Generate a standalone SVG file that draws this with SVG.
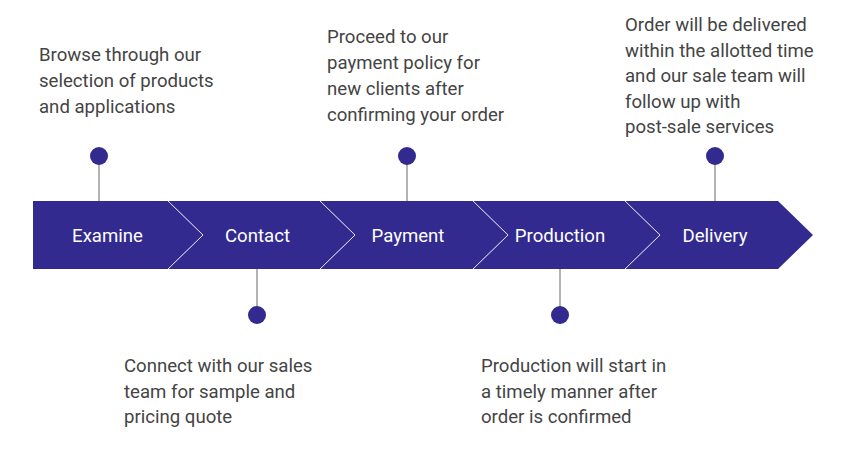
<svg xmlns="http://www.w3.org/2000/svg" width="841" height="470" viewBox="0 0 841 470">
<style>
.seg{fill:#332a8f;}
.div{fill:none;stroke:#e6e4f5;stroke-width:1;}
.lbl{font-family:Roboto,"Liberation Sans",sans-serif;font-size:18.6px;fill:#ffffff;text-anchor:middle;}
.desc{font-family:Roboto,"Liberation Sans",sans-serif;font-size:18.6px;fill:#444444;}
.stem{stroke:#9a9a9a;stroke-width:1.5;}
.dot{fill:#332a8f;}
</style>
<rect width="841" height="470" fill="#ffffff"/>
<g id="connectors">
<line class="stem" x1="99" y1="160" x2="99" y2="201"/>
<line class="stem" x1="407" y1="160" x2="407" y2="201"/>
<line class="stem" x1="715" y1="160" x2="715" y2="201"/>
<line class="stem" x1="257" y1="269" x2="257" y2="310"/>
<line class="stem" x1="560" y1="269" x2="560" y2="310"/>
</g>
<g id="examine">
<polygon class="seg" points="33,201 168,201 203,235 168,269 33,269"/>
<text class="lbl" x="107.5" y="242">Examine</text>
</g>
<g id="contact">
<polygon class="seg" points="168,201 320,201 355,235 320,269 168,269 203,235"/>
<polyline class="div" points="168,201 203,235 168,269"/>
<text class="lbl" x="257.5" y="242">Contact</text>
</g>
<g id="payment">
<polygon class="seg" points="320,201 473,201 508,235 473,269 320,269 355,235"/>
<polyline class="div" points="320,201 355,235 320,269"/>
<text class="lbl" x="408" y="242">Payment</text>
</g>
<g id="production">
<polygon class="seg" points="473,201 625,201 660,235 625,269 473,269 508,235"/>
<polyline class="div" points="473,201 508,235 473,269"/>
<text class="lbl" x="560" y="242">Production</text>
</g>
<g id="delivery">
<polygon class="seg" points="625,201 778,201 813,235 778,269 625,269 660,235"/>
<polyline class="div" points="625,201 660,235 625,269"/>
<text class="lbl" x="715" y="242">Delivery</text>
</g>
<g id="note-examine">
<circle class="dot" cx="99" cy="156" r="9"/>
<text class="desc" x="39" y="61">Browse through our</text>
<text class="desc" x="39" y="87">selection of products</text>
<text class="desc" x="39" y="113">and applications</text>
</g>
<g id="note-payment">
<circle class="dot" cx="407" cy="156" r="9"/>
<text class="desc" x="327" y="43">Proceed to our</text>
<text class="desc" x="327" y="69">payment policy for</text>
<text class="desc" x="327" y="95">new clients after</text>
<text class="desc" x="327" y="121">confirming your order</text>
</g>
<g id="note-delivery">
<circle class="dot" cx="715" cy="156" r="9"/>
<text class="desc" x="625" y="31">Order will be delivered</text>
<text class="desc" x="625" y="57">within the allotted time</text>
<text class="desc" x="625" y="82">and our sale team will</text>
<text class="desc" x="625" y="108">follow up with</text>
<text class="desc" x="625" y="133">post-sale services</text>
</g>
<g id="note-contact">
<circle class="dot" cx="257" cy="315" r="9"/>
<text class="desc" x="124" y="372">Connect with our sales</text>
<text class="desc" x="124" y="398">team for sample and</text>
<text class="desc" x="124" y="423">pricing quote</text>
</g>
<g id="note-production">
<circle class="dot" cx="560" cy="315" r="9"/>
<text class="desc" x="481" y="372">Production will start in</text>
<text class="desc" x="481" y="398">a timely manner after</text>
<text class="desc" x="481" y="423">order is confirmed</text>
</g>
</svg>
